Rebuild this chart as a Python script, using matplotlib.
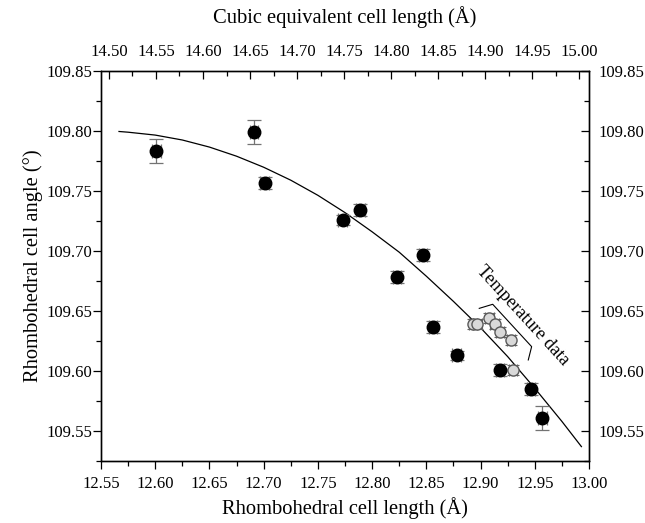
import numpy as np
import matplotlib.pyplot as plt
from matplotlib.ticker import MultipleLocator, FormatStrFormatter

plt.rcParams['font.family'] = ['Liberation Serif', 'DejaVu Serif']

# rhombohedral data (filled)
rh_len = [12.601, 12.691, 12.701, 12.773, 12.789, 12.823, 12.847, 12.856, 12.878, 12.918, 12.9465, 12.957]
rh_ang = [109.783, 109.799, 109.757, 109.726, 109.734, 109.678, 109.697, 109.637, 109.613, 109.601, 109.585, 109.561]
rh_ang_err = [0.010, 0.010, 0.005, 0.004, 0.005, 0.005, 0.005, 0.005, 0.004, 0.005, 0.005, 0.010]
rh_len_err = [0.004] * 12

# temperature data (open)
t_len = [12.893, 12.897, 12.908, 12.913, 12.918, 12.928, 12.930]
t_ang = [109.639, 109.639, 109.644, 109.639, 109.6325, 109.626, 109.601]
t_ang_err = [0.004] * 7
t_len_err = [0.004] * 7

# fitted curve
fit_len = [12.5666, 12.575, 12.60, 12.625, 12.65, 12.675, 12.70, 12.725, 12.75, 12.775,
           12.80, 12.825, 12.85, 12.875, 12.90, 12.925, 12.95, 12.975, 12.993]
fit_ang = [109.7996, 109.799, 109.7966, 109.7925, 109.7866, 109.779, 109.7698, 109.759, 109.7464, 109.732,
           109.716, 109.699, 109.679, 109.658, 109.636, 109.612, 109.5856, 109.558, 109.537]

# bracket next to "Temperature data"
brk_x = [12.8988, 12.9112, 12.9471, 12.9440]
brk_y = [109.6522, 109.6556, 109.6203, 109.6092]

fig = plt.figure(figsize=(6.45, 5.23), dpi=100)
ax = fig.add_axes([101 / 645, 1 - 461 / 523, 488 / 645, 390 / 523])

ax.plot(fit_len, fit_ang, color='black', linewidth=0.9, zorder=2)
ax.errorbar(t_len, t_ang, yerr=t_ang_err, xerr=t_len_err, fmt='o', mfc='0.85', mec='0.35',
            markersize=8, ecolor='0.4', elinewidth=0.8, capsize=4, capthick=0.8, zorder=3)
ax.errorbar(rh_len, rh_ang, yerr=rh_ang_err, xerr=rh_len_err, fmt='o', color='black',
            markersize=9, ecolor='0.45', elinewidth=0.9, capsize=5, capthick=0.9, zorder=4)

ax.plot(brk_x, brk_y, color='black', linewidth=0.8)
ax.text(12.9391, 109.6458, 'Temperature data', rotation=-47.5, fontsize=13.3,
        ha='center', va='center', rotation_mode='anchor')

ax.set_xlim(12.55, 13.00)
ax.set_ylim(109.525, 109.85)
ax.xaxis.set_major_locator(MultipleLocator(0.05))
ax.xaxis.set_minor_locator(MultipleLocator(0.025))
ax.yaxis.set_major_locator(MultipleLocator(0.05))
ax.yaxis.set_minor_locator(MultipleLocator(0.025))
ax.xaxis.set_major_formatter(FormatStrFormatter('%.2f'))
ax.yaxis.set_major_formatter(FormatStrFormatter('%.2f'))
ax.tick_params(which='both', direction='out', labelsize=12, width=0.9)
ax.tick_params(axis='x', pad=5)
ax.tick_params(axis='y', pad=0)
ax.tick_params(which='major', length=6)
ax.tick_params(which='minor', length=3.5)
ax.set_xlabel('Rhombohedral cell length (Å)', fontsize=14.8, labelpad=3.5)
ax.set_ylabel('Rhombohedral cell angle (°)', fontsize=14.8, labelpad=2.5)

# right axis, same angle scale
axr = ax.twinx()
axr.set_ylim(ax.get_ylim())
axr.yaxis.set_major_locator(MultipleLocator(0.05))
axr.yaxis.set_minor_locator(MultipleLocator(0.025))
axr.yaxis.set_major_formatter(FormatStrFormatter('%.2f'))
axr.tick_params(which='both', direction='in', labelsize=12, width=0.9, pad=7)
axr.tick_params(which='major', length=6)
axr.tick_params(which='minor', length=3.5)

# top axis, cubic equivalent length
axt = ax.twiny()
axt.set_xlim(14.4915, 15.0106)
axt.xaxis.set_major_locator(MultipleLocator(0.05))
axt.xaxis.set_minor_locator(MultipleLocator(0.025))
axt.xaxis.set_major_formatter(FormatStrFormatter('%.2f'))
axt.tick_params(which='both', direction='in', labelsize=12, width=0.9, pad=8)
axt.tick_params(which='major', length=6)
axt.tick_params(which='minor', length=3.5)
axt.set_xlabel('Cubic equivalent cell length (Å)', fontsize=14.8, labelpad=15)

for a in (ax, axr, axt):
    for s in a.spines.values():
        s.set_linewidth(0.9)

fig.savefig('out.png', dpi=100)
